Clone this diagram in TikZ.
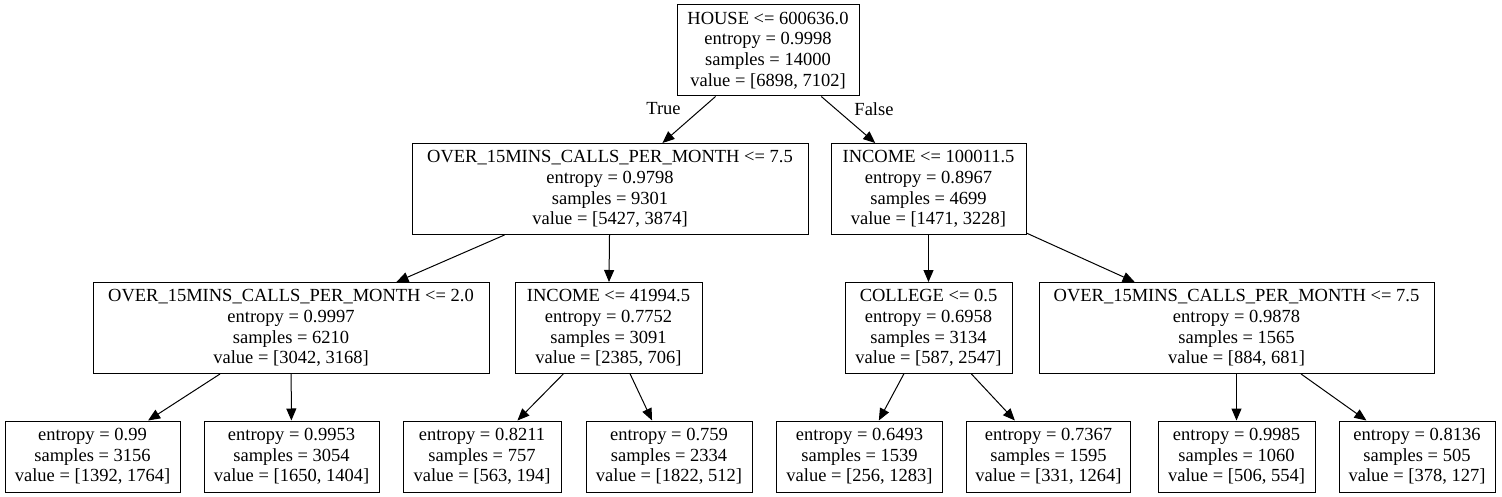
\documentclass[tikz,border=0pt]{standalone}
\usepackage{fontspec}
\setmainfont{Liberation Serif}
\usetikzlibrary{arrows.meta}
\begin{document}
\begin{tikzpicture}[x=1pt,y=-1pt,
		box/.style={draw, line width=1pt, rectangle, inner sep=2pt, align=center, font=\fontsize{18.5}{20.7}\selectfont},
		splitbox/.style={box, minimum height=91pt, minimum width=#1},
		leafbox/.style={box, minimum height=71pt, minimum width=#1},
		arr/.style={-{Triangle[length=12pt,width=10pt]}, line width=1pt}]
			\useasboundingbox (0,0) rectangle (1502,497);
			\node [splitbox=182pt] (root) at (768,50.5) {HOUSE <= 600636.0\\entropy = 0.9998\\samples = 14000\\value = [6898, 7102]};
			\node [splitbox=396pt] (l) at (610,189) {OVER\_15MINS\_CALLS\_PER\_MONTH <= 7.5\\entropy = 0.9798\\samples = 9301\\value = [5427, 3874]};
			\node [splitbox=195pt] (r) at (928.5,189) {INCOME <= 100011.5\\entropy = 0.8967\\samples = 4699\\value = [1471, 3228]};
			\node [splitbox=396pt] (ll) at (291,328) {OVER\_15MINS\_CALLS\_PER\_MONTH <= 2.0\\entropy = 0.9997\\samples = 6210\\value = [3042, 3168]};
			\node [splitbox=187pt] (lr) at (608.5,328) {INCOME <= 41994.5\\entropy = 0.7752\\samples = 3091\\value = [2385, 706]};
			\node [splitbox=167pt] (rl) at (928.5,328) {COLLEGE <= 0.5\\entropy = 0.6958\\samples = 3134\\value = [587, 2547]};
			\node [splitbox=395pt] (rr) at (1236.5,328) {OVER\_15MINS\_CALLS\_PER\_MONTH <= 7.5\\entropy = 0.9878\\samples = 1565\\value = [884, 681]};
			\node [leafbox=175pt] (lll) at (92.5,456.5) {entropy = 0.99\\samples = 3156\\value = [1392, 1764]};
			\node [leafbox=175pt] (llr) at (291.5,456.5) {entropy = 0.9953\\samples = 3054\\value = [1650, 1404]};
			\node [leafbox=158pt] (lrl) at (482,456.5) {entropy = 0.8211\\samples = 757\\value = [563, 194]};
			\node [leafbox=166pt] (lrr) at (669,456.5) {entropy = 0.759\\samples = 2334\\value = [1822, 512]};
			\node [leafbox=166pt] (rll) at (859.5,456.5) {entropy = 0.6493\\samples = 1539\\value = [256, 1283]};
			\node [leafbox=164pt] (rlr) at (1048.5,456.5) {entropy = 0.7367\\samples = 1595\\value = [331, 1264]};
			\node [leafbox=157pt] (rrl) at (1236.5,456.5) {entropy = 0.9985\\samples = 1060\\value = [506, 554]};
			\node [leafbox=156pt] (rrr) at (1417,456.5) {entropy = 0.8136\\samples = 505\\value = [378, 127]};
			\draw [arr] (root) -- (l);
			\draw [arr] (root) -- (r);
			\node [font=\fontsize{18.5}{20.7}\selectfont] (true) at (663.5,109) {True};
			\node [font=\fontsize{18.5}{20.7}\selectfont] (false) at (874,109) {False};
			\draw [arr] (l) -- (ll);
			\draw [arr] (l) -- (lr);
			\draw [arr] (r) -- (rl);
			\draw [arr] (r) -- (rr);
			\draw [arr] (ll) -- (lll);
			\draw [arr] (ll) -- (llr);
			\draw [arr] (lr) -- (lrl);
			\draw [arr] (lr) -- (lrr);
			\draw [arr] (rl) -- (rll);
			\draw [arr] (rl) -- (rlr);
			\draw [arr] (rr) -- (rrl);
			\draw [arr] (rr) -- (rrr);
		\end{tikzpicture}
\end{document}
